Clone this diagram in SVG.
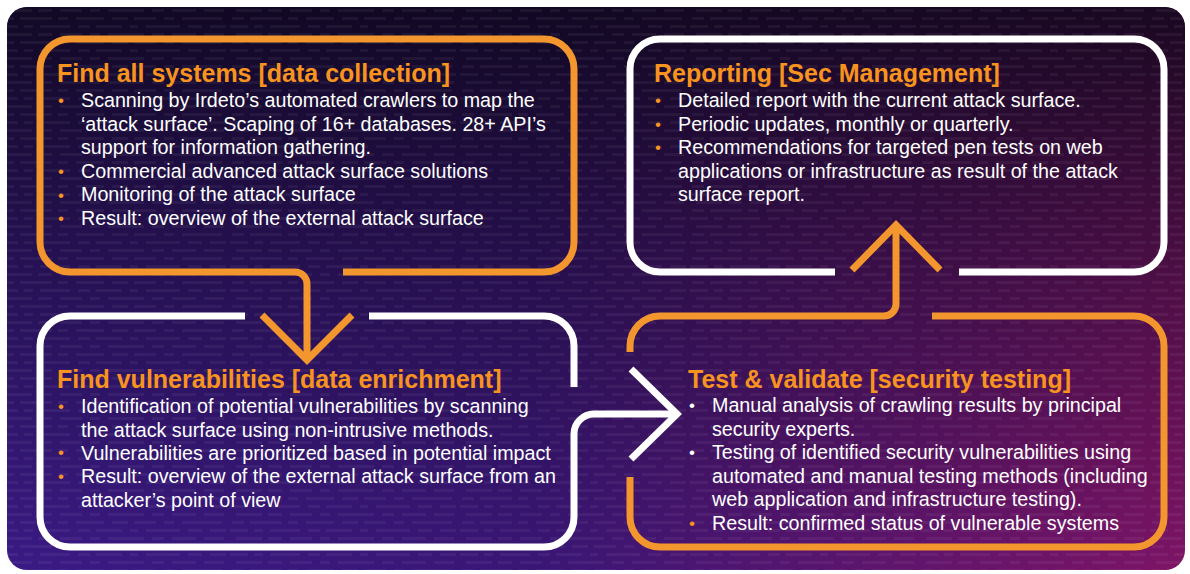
<svg xmlns="http://www.w3.org/2000/svg" width="1190" height="574" viewBox="0 0 1190 574">
  <defs>
    <linearGradient id="bgBase" x1="0" y1="0" x2="1" y2="0">
      <stop offset="0" stop-color="#3a1a84"/>
      <stop offset="0.45" stop-color="#3a1676"/>
      <stop offset="1" stop-color="#7e1466"/>
    </linearGradient>
    <linearGradient id="bgShade" x1="0" y1="0" x2="0" y2="1">
      <stop offset="0" stop-color="#0c0618" stop-opacity="0.88"/>
      <stop offset="0.45" stop-color="#0c0618" stop-opacity="0.45"/>
      <stop offset="1" stop-color="#0c0618" stop-opacity="0"/>
    </linearGradient>
    <pattern id="code" width="230" height="24" patternUnits="userSpaceOnUse">
      <g fill="#ffffff" fill-opacity="0.05">
        <rect x="0" y="1" width="18" height="3"/>
        <rect x="24" y="1" width="9" height="3"/>
        <rect x="40" y="1" width="30" height="3"/>
        <rect x="78" y="1" width="12" height="3"/>
        <rect x="96" y="1" width="26" height="3"/>
        <rect x="130" y="1" width="8" height="3"/>
        <rect x="146" y="1" width="34" height="3"/>
        <rect x="188" y="1" width="14" height="3"/>
        <rect x="210" y="1" width="16" height="3"/>
        <rect x="6" y="9" width="26" height="3"/>
        <rect x="38" y="9" width="14" height="3"/>
        <rect x="60" y="9" width="22" height="3"/>
        <rect x="90" y="9" width="10" height="3"/>
        <rect x="108" y="9" width="36" height="3"/>
        <rect x="152" y="9" width="12" height="3"/>
        <rect x="172" y="9" width="24" height="3"/>
        <rect x="204" y="9" width="20" height="3"/>
        <rect x="2" y="17" width="12" height="3"/>
        <rect x="20" y="17" width="32" height="3"/>
        <rect x="58" y="17" width="10" height="3"/>
        <rect x="76" y="17" width="28" height="3"/>
        <rect x="112" y="17" width="16" height="3"/>
        <rect x="134" y="17" width="22" height="3"/>
        <rect x="164" y="17" width="10" height="3"/>
        <rect x="182" y="17" width="40" height="3"/>
      </g>
    </pattern>
    <style>
      .ob { fill: none; stroke: #F4962E; stroke-width: 7; stroke-linecap: butt; stroke-linejoin: miter; }
      .wb { fill: none; stroke: #FFFFFF; stroke-width: 7; stroke-linecap: butt; stroke-linejoin: miter; }
      .title { font-family: "Liberation Sans", Arial, sans-serif; font-weight: bold; font-size: 25px; fill: #F7931E; }
      .body { font-family: "Liberation Sans", Arial, sans-serif; font-size: 19.7px; fill: #FFFFFF; }
      .bo { font-family: "Liberation Sans", Arial, sans-serif; font-size: 17px; fill: #F7931E; }
      .bw { font-family: "Liberation Sans", Arial, sans-serif; font-size: 17px; fill: #FFFFFF; }
    </style>
  </defs>

  <rect x="0" y="0" width="1190" height="574" fill="#FFFFFF"/>
  <g id="background">
    <rect x="7" y="7" width="1178" height="563" rx="20" fill="url(#bgBase)"/>
    <rect x="7" y="7" width="1178" height="563" rx="20" fill="url(#bgShade)"/>
    <rect x="7" y="7" width="1178" height="563" rx="20" fill="url(#code)"/>
  </g>

  <g id="node-find-systems">
    <path class="ob" d="M343,272 H544 A30,30 0 0 0 574,242 V69 A30,30 0 0 0 544,39 H70 A30,30 0 0 0 40,69 V242 A30,30 0 0 0 70,272 H295"/>
    <text class="title" x="57" y="82">Find all systems [data collection]</text>
    <text class="bo" x="58" y="106">•</text>
    <text class="bo" x="58" y="177">•</text>
    <text class="bo" x="58" y="201">•</text>
    <text class="bo" x="58" y="224">•</text>
    <text class="body" x="81" y="107">Scanning by Irdeto’s automated crawlers to map the</text>
    <text class="body" x="81" y="130.5">‘attack surface’. Scaping of 16+ databases. 28+ API’s</text>
    <text class="body" x="81" y="154">support for information gathering.</text>
    <text class="body" x="81" y="177.5">Commercial advanced attack surface solutions</text>
    <text class="body" x="81" y="201">Monitoring of the attack surface</text>
    <text class="body" x="81" y="224.5">Result: overview of the external attack surface</text>
  </g>

  <g id="node-reporting">
    <path class="wb" d="M959,272 H1134 A30,30 0 0 0 1164,242 V69 A30,30 0 0 0 1134,39 H660 A30,30 0 0 0 630,69 V242 A30,30 0 0 0 660,272 H835"/>
    <text class="title" x="654" y="82">Reporting [Sec Management]</text>
    <text class="bo" x="655" y="106">•</text>
    <text class="bo" x="655" y="129.5">•</text>
    <text class="bo" x="655" y="153">•</text>
    <text class="body" x="678" y="107">Detailed report with the current attack surface.</text>
    <text class="body" x="678" y="130.5">Periodic updates, monthly or quarterly.</text>
    <text class="body" x="678" y="154">Recommendations for targeted pen tests on web</text>
    <text class="body" x="678" y="177.5">applications or infrastructure as result of the attack</text>
    <text class="body" x="678" y="201">surface report.</text>
  </g>

  <g id="node-find-vulnerabilities">
    <path class="wb" d="M369,316 H544 A30,30 0 0 1 574,346 V387"/>
    <path class="wb" d="M245,316 H70 A30,30 0 0 0 40,346 V517 A30,30 0 0 0 70,547 H544 A30,30 0 0 0 574,517 V434"/>
    <text class="title" x="57" y="388">Find vulnerabilities [data enrichment]</text>
    <text class="bo" x="58" y="412">•</text>
    <text class="bo" x="58" y="458">•</text>
    <text class="bo" x="58" y="482">•</text>
    <text class="body" x="81" y="413">Identification of potential vulnerabilities by scanning</text>
    <text class="body" x="81" y="436.5">the attack surface using non-intrusive methods.</text>
    <text class="body" x="81" y="459.5">Vulnerabilities are prioritized based in potential impact</text>
    <text class="body" x="81" y="483">Result: overview of the external attack surface from an</text>
    <text class="body" x="81" y="506.5">attacker’s point of view</text>
  </g>

  <g id="node-test-validate">
    <path class="ob" d="M630,352 V346 A30,30 0 0 1 660,316 H884"/>
    <path class="ob" d="M932,316 H1134 A30,30 0 0 1 1164,346 V517 A30,30 0 0 1 1134,547 H660 A30,30 0 0 1 630,517 V477"/>
    <text class="title" x="688" y="388">Test &amp; validate [security testing]</text>
    <text class="bw" x="689" y="411">•</text>
    <text class="bw" x="689" y="458">•</text>
    <text class="bo" x="689" y="529">•</text>
    <text class="body" x="712" y="412">Manual analysis of crawling results by principal</text>
    <text class="body" x="712" y="435.5">security experts.</text>
    <text class="body" x="712" y="459">Testing of identified security vulnerabilities using</text>
    <text class="body" x="712" y="482.5">automated and manual testing methods (including</text>
    <text class="body" x="712" y="506">web application and infrastructure testing).</text>
    <text class="body" x="712" y="529.5">Result: confirmed status of vulnerable systems</text>
  </g>

  <g id="connectors">
    <path class="ob" d="M295,272 A12,12 0 0 1 307,284 V360"/>
    <path class="ob" d="M262,315 L307,360 L352,315"/>
    <path class="wb" d="M574,434 A20,20 0 0 1 594,414 H677"/>
    <path class="wb" d="M631,369 L677,414 L631,459"/>
    <path class="ob" d="M884,316 A12,12 0 0 0 896,304 V225"/>
    <path class="ob" d="M852,270 L896,225 L940,270"/>
  </g>
</svg>
